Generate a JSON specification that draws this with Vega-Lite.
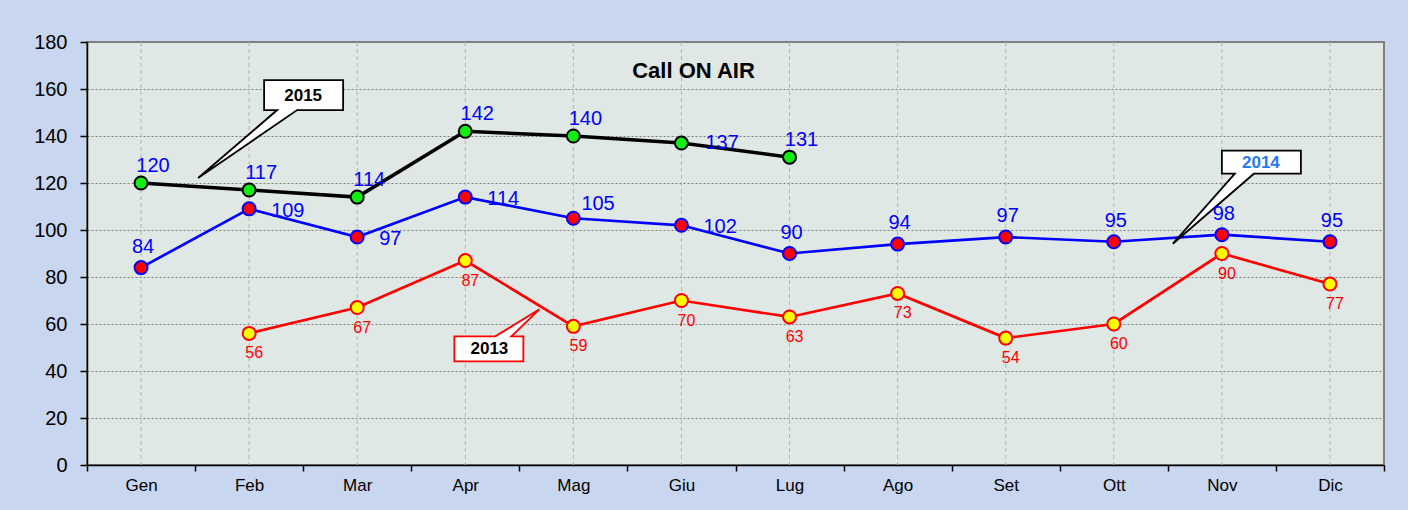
{
  "$schema": "https://vega.github.io/schema/vega-lite/v6.json",
  "width": 1297,
  "height": 423,
  "autosize": {"type": "none"},
  "padding": {"left": 87, "top": 42, "right": 24, "bottom": 45},
  "background": "#c9d6ef",
  "config": {
    "view": {"fill": "#dfe8e5", "stroke": "#808080", "strokeWidth": 2},
    "font": "Liberation Sans"
  },
  "title": {
    "text": "Call ON AIR",
    "font": "Liberation Sans",
    "fontSize": 22,
    "fontWeight": "bold",
    "color": "black",
    "frame": "group",
    "anchor": "middle",
    "dx": -42,
    "offset": -68,
    "baseline": "alphabetic"
  },
  "data": {
    "values": [
      {"series": "2015", "month": "Gen", "value": 120},
      {"series": "2015", "month": "Feb", "value": 117},
      {"series": "2015", "month": "Mar", "value": 114},
      {"series": "2015", "month": "Apr", "value": 142},
      {"series": "2015", "month": "Mag", "value": 140},
      {"series": "2015", "month": "Giu", "value": 137},
      {"series": "2015", "month": "Lug", "value": 131},
      {"series": "2014", "month": "Gen", "value": 84},
      {"series": "2014", "month": "Feb", "value": 109},
      {"series": "2014", "month": "Mar", "value": 97},
      {"series": "2014", "month": "Apr", "value": 114},
      {"series": "2014", "month": "Mag", "value": 105},
      {"series": "2014", "month": "Giu", "value": 102},
      {"series": "2014", "month": "Lug", "value": 90},
      {"series": "2014", "month": "Ago", "value": 94},
      {"series": "2014", "month": "Set", "value": 97},
      {"series": "2014", "month": "Ott", "value": 95},
      {"series": "2014", "month": "Nov", "value": 98},
      {"series": "2014", "month": "Dic", "value": 95},
      {"series": "2013", "month": "Feb", "value": 56},
      {"series": "2013", "month": "Mar", "value": 67},
      {"series": "2013", "month": "Apr", "value": 87},
      {"series": "2013", "month": "Mag", "value": 59},
      {"series": "2013", "month": "Giu", "value": 70},
      {"series": "2013", "month": "Lug", "value": 63},
      {"series": "2013", "month": "Ago", "value": 73},
      {"series": "2013", "month": "Set", "value": 54},
      {"series": "2013", "month": "Ott", "value": 60},
      {"series": "2013", "month": "Nov", "value": 90},
      {"series": "2013", "month": "Dic", "value": 77}
    ]
  },
  "encoding": {
    "x": {
      "field": "month",
      "type": "nominal",
      "sort": ["Gen", "Feb", "Mar", "Apr", "Mag", "Giu", "Lug", "Ago", "Set", "Ott", "Nov", "Dic"],
      "scale": {"paddingInner": 0, "paddingOuter": 0},
      "axis": {
        "title": null,
        "labelFontSize": 17,
        "labelFont": "Liberation Sans",
        "labelColor": "black",
        "labelAngle": 0,
        "labelPadding": 6,
        "tickBand": "extent",
        "tickColor": "black",
        "tickSize": 6,
        "tickWidth": 1.5,
        "domainColor": "black",
        "domainWidth": 1.5,
        "grid": false
      }
    }
  },
  "layer": [
    {
      "transform": [{"aggregate": [{"op": "count", "as": "n"}], "groupby": ["month"]}],
      "mark": {"type": "rule", "color": "#b4b4b4", "strokeDash": [4, 3], "strokeWidth": 1},
      "encoding": {}
    },
    {
      "mark": {"type": "line"},
      "encoding": {
        "y": {
          "field": "value",
          "type": "quantitative",
          "scale": {"domain": [0, 180], "nice": false},
          "axis": {
            "title": null,
            "values": [0, 20, 40, 60, 80, 100, 120, 140, 160, 180],
            "labelFontSize": 20,
            "labelFont": "Liberation Sans",
            "labelColor": "black",
            "labelPadding": 13,
            "tickColor": "black",
            "tickSize": 7,
            "tickWidth": 1.5,
            "domainColor": "black",
            "domainWidth": 1.5,
            "grid": true,
            "gridColor": "#7f7f7f",
            "gridDash": [2, 2],
            "gridWidth": 1
          }
        },
        "stroke": {
          "field": "series",
          "type": "nominal",
          "scale": {"domain": ["2013", "2014", "2015"], "range": ["#ff0000", "#0000ff", "#000000"]},
          "legend": null
        },
        "strokeWidth": {"condition": {"test": "datum.series === '2015'", "value": 3.5}, "value": 2.7}
      }
    },
    {
      "mark": {"type": "circle", "size": 169, "strokeWidth": 2, "opacity": 1},
      "encoding": {
        "y": {"field": "value", "type": "quantitative"},
        "fill": {
          "field": "series",
          "type": "nominal",
          "scale": {"domain": ["2013", "2014", "2015"], "range": ["#ffff00", "#ff0000", "#11ee11"]},
          "legend": null
        },
        "stroke": {"field": "series", "type": "nominal", "legend": null}
      }
    },
    {
      "transform": [{"filter": "(datum.series === '2015' && datum.month === 'Feb') || (datum.series === '2013' && datum.month === 'Mag') || (datum.series === '2014' && datum.month === 'Nov')"}],
      "mark": {"type": "point", "filled": true, "size": 4, "fill": "white", "strokeWidth": 1.8, "opacity": 1},
      "encoding": {
        "y": {"field": "value", "type": "quantitative"},
        "shape": {
          "field": "series",
          "type": "nominal",
          "scale": {
            "domain": ["2013", "2014", "2015"],
            "range": [
              "M-119,10L-78,10L-34,-17L-62,10L-50,10L-50,35L-119,35Z",
              "M0,-84L79,-84L79,-61L32,-61L-49,9L13,-61L0,-61Z",
              "M15,-110L94,-110L94,-80L48,-80L-51,-12L28,-80L15,-80Z"
            ]
          },
          "legend": null
        },
        "stroke": {"condition": {"test": "datum.series === '2013'", "value": "#ff0000"}, "value": "black"}
      }
    },
    {
      "transform": [{"filter": "datum.series === '2015' && datum.month === 'Feb'"}],
      "mark": {"type": "text", "fontSize": 17, "fontWeight": "bold", "color": "black", "align": "center", "baseline": "middle", "dx": 54, "dy": -94},
      "encoding": {"y": {"field": "value", "type": "quantitative"}, "text": {"field": "series"}}
    },
    {
      "transform": [{"filter": "datum.series === '2013' && datum.month === 'Mag'"}],
      "mark": {"type": "text", "fontSize": 17, "fontWeight": "bold", "color": "black", "align": "center", "baseline": "middle", "dx": -84, "dy": 23},
      "encoding": {"y": {"field": "value", "type": "quantitative"}, "text": {"field": "series"}}
    },
    {
      "transform": [{"filter": "datum.series === '2014' && datum.month === 'Nov'"}],
      "mark": {"type": "text", "fontSize": 17, "fontWeight": "bold", "color": "#1f7af5", "align": "center", "baseline": "middle", "dx": 39, "dy": -72},
      "encoding": {"y": {"field": "value", "type": "quantitative"}, "text": {"field": "series"}}
    },
    {
      "transform": [{"filter": "datum.series === '2015' && datum.month !== 'Giu'"}],
      "mark": {"type": "text", "fontSize": 20, "color": "#0000ff", "align": "center", "baseline": "middle", "dx": 12, "dy": -17},
      "encoding": {"y": {"field": "value", "type": "quantitative"}, "text": {"field": "value", "type": "quantitative"}}
    },
    {
      "transform": [{"filter": "datum.series === '2015' && datum.month === 'Giu'"}],
      "mark": {"type": "text", "fontSize": 20, "color": "#0000ff", "align": "left", "baseline": "middle", "dx": 24, "dy": 0},
      "encoding": {"y": {"field": "value", "type": "quantitative"}, "text": {"field": "value", "type": "quantitative"}}
    },
    {
      "transform": [{"filter": "datum.series === '2014' && indexof(['Gen','Lug','Ago','Set','Ott','Nov','Dic'], datum.month) >= 0"}],
      "mark": {"type": "text", "fontSize": 20, "color": "#0000ff", "align": "center", "baseline": "middle", "dx": 2, "dy": -21},
      "encoding": {"y": {"field": "value", "type": "quantitative"}, "text": {"field": "value", "type": "quantitative"}}
    },
    {
      "transform": [{"filter": "datum.series === '2014' && indexof(['Feb','Mar','Apr','Giu'], datum.month) >= 0"}],
      "mark": {"type": "text", "fontSize": 20, "color": "#0000ff", "align": "left", "baseline": "middle", "dx": 22, "dy": 2},
      "encoding": {"y": {"field": "value", "type": "quantitative"}, "text": {"field": "value", "type": "quantitative"}}
    },
    {
      "transform": [{"filter": "datum.series === '2014' && datum.month === 'Mag'"}],
      "mark": {"type": "text", "fontSize": 20, "color": "#0000ff", "align": "left", "baseline": "middle", "dx": 8, "dy": -14},
      "encoding": {"y": {"field": "value", "type": "quantitative"}, "text": {"field": "value", "type": "quantitative"}}
    },
    {
      "transform": [{"filter": "datum.series === '2013'"}],
      "mark": {"type": "text", "fontSize": 16, "color": "#ff0000", "align": "center", "baseline": "middle", "dx": 5, "dy": 20},
      "encoding": {"y": {"field": "value", "type": "quantitative"}, "text": {"field": "value", "type": "quantitative"}}
    }
  ]
}
